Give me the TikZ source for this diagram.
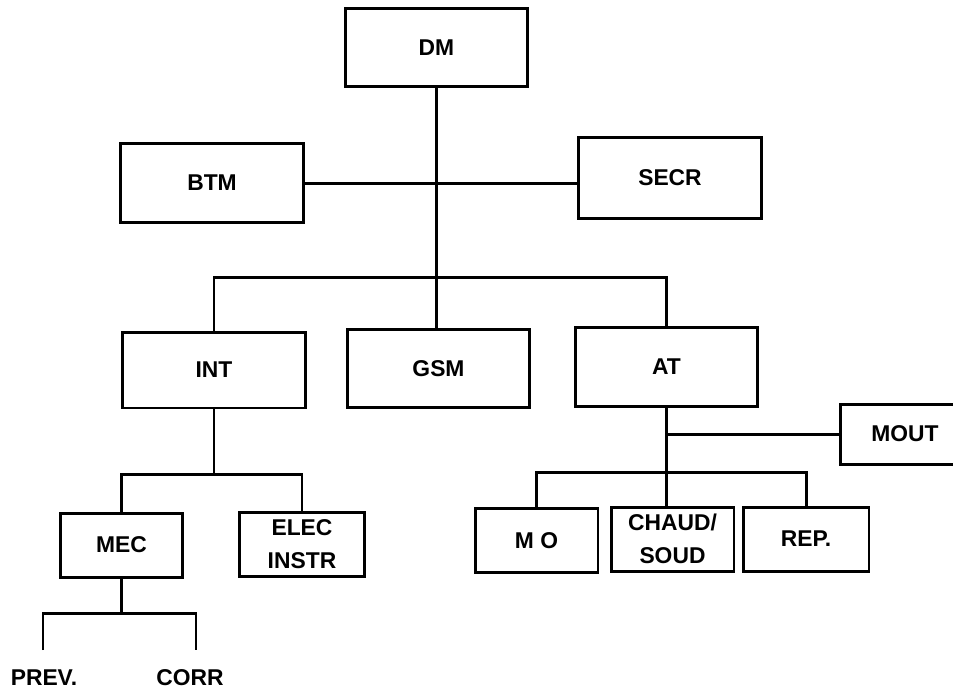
\documentclass[tikz,border=0pt]{standalone}
\usepackage{fontspec}
\setmainfont{Liberation Sans}
\begin{document}
\begin{tikzpicture}[x=0.02cm, y=-0.02cm,
        box/.style={draw, line width=1.7pt, inner sep=1pt, align=center,
            font=\fontsize{13}{18.5}\selectfont\bfseries},
        big/.style={box, minimum width=3.66cm, minimum height=1.57cm},
        small/.style={box, minimum width=2.48cm, minimum height=1.28cm},
        link/.style={line width=1.7pt}]
    \path[use as bounding box, clip] (0,0) rectangle (953,691);

    % Top levels
    \node[big] (dm) at (436.5,47.5) {DM};
    \node[big] (btm) at (212,183) {BTM};
    \node[big, minimum height=1.62cm] (secr) at (670,178) {SECR};

    % Departments
    \node[big, minimum height=1.52cm] (int) at (214,370) {INT};
    \node[big] (gsm) at (438.5,368.5) {GSM};
    \node[big] (at) at (666.5,367) {AT};
    \node[big, minimum width=2.6cm, minimum height=1.2cm] (mout) at (905,434) {MOUT};

    % Sections
    \node[small, minimum width=2.46cm] (mec) at (121.5,545) {MEC};
    \node[small, minimum width=2.52cm] (elec) at (302,544) {ELEC\\INSTR};
    \node[small, minimum width=2.46cm] (mo) at (536.5,540.5) {M O};
    \node[small, minimum width=2.46cm] (chaud) at (672.5,539) {CHAUD/\\SOUD};
    \node[small, minimum width=2.52cm] (rep) at (806,539) {REP.};

    % Bottom labels
    \node[font=\fontsize{13}{15}\selectfont\bfseries] (prev) at (44,678) {PREV.};
    \node[font=\fontsize{13}{15}\selectfont\bfseries] (corr) at (190,678) {CORR};

    % Forks
    \coordinate (bus) at (437,277);
    \coordinate (intfork) at (214,474);
    \coordinate (mecfork) at (121.5,613);
    \coordinate (prevend) at (43,650);
    \coordinate (corrend) at (196,650);
    \coordinate (atfork) at (666.5,472);

    % Connectors
    \draw[link] (dm.south) -- (dm.south |- gsm.north);
    \draw[link] (btm.east) -- (btm.east -| secr.west);
    \draw[link] (int.north) |- (bus) -| (at.north);
    \draw[link] (int.south) -- (intfork);
    \draw[link] (mec.north) |- (intfork) -| (elec.north);
    \draw[link] (mec.south) -- (mecfork);
    \draw[link] (prevend) |- (mecfork) -| (corrend);
    \draw[link] (at.south) -- (atfork) -- (at.south |- chaud.north);
    \draw[link] (at.south |- mout.west) -- (mout.west);
    \draw[link] (mo.north) |- (atfork) -| (rep.north);
\end{tikzpicture}
\end{document}
